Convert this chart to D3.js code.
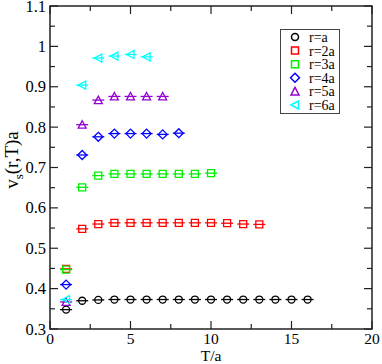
<!DOCTYPE html>
<html lang="en">
<head>
    <meta charset="UTF-8">
    <title>v_s(r,T)a vs T/a</title>
    <script src="https://d3js.org/d3.v7.min.js"></script>
    <style>
        body {
            margin: 0;
            background: #ffffff;
        }
        .frame {
            fill: none;
            stroke: #222;
            stroke-width: 1.5px;
        }
        .tick {
            stroke: #222;
            stroke-width: 1.2px;
        }
    </style>
</head>
<body>
    <div id="chart"></div>

    <script>
        // Data
        const seriesNames = ["r=a", "r=2a", "r=3a", "r=4a", "r=5a", "r=6a"];

        const tR1 = [1, 2, 3, 4, 5, 6, 7, 8, 9, 10, 11, 12, 13, 14, 15, 16];
        const vR1 = [0.348, 0.370, 0.372, 0.373, 0.373, 0.373, 0.373, 0.373, 0.373, 0.373, 0.373, 0.373, 0.373, 0.373, 0.373, 0.373];

        const tR2 = [1, 2, 3, 4, 5, 6, 7, 8, 9, 10, 11, 12, 13];
        const vR2 = [0.449, 0.548, 0.560, 0.563, 0.563, 0.563, 0.563, 0.563, 0.563, 0.563, 0.562, 0.560, 0.559];

        const tR3 = [1, 2, 3, 4, 5, 6, 7, 8, 9, 10];
        const vR3 = [0.447, 0.651, 0.680, 0.684, 0.684, 0.684, 0.684, 0.684, 0.684, 0.686];

        const tR4 = [1, 2, 3, 4, 5, 6, 7, 8];
        const vR4 = [0.410, 0.731, 0.776, 0.784, 0.784, 0.784, 0.782, 0.785];

        const tR5 = [1, 2, 3, 4, 5, 6, 7];
        const vR5 = [0.367, 0.806, 0.867, 0.876, 0.876, 0.876, 0.876];

        const tR6 = [1, 2, 3, 4, 5, 6];
        const vR6 = [0.373, 0.904, 0.971, 0.976, 0.980, 0.974];

        const xTicks = [0, 5, 10, 15, 20];
        const xTickLabels = ["0", "5", "10", "15", "20"];
        const yTicks = [0.3, 0.4, 0.5, 0.6, 0.7, 0.8, 0.9, 1.0, 1.1];
        const yTickLabels = ["0.3", "0.4", "0.5", "0.6", "0.7", "0.8", "0.9", "1", "1.1"];

        const colors = ["#000000", "#ff0000", "#00ee00", "#0000ff", "#9400d3", "#00ffff"];
        const shapes = ["circle", "square", "square", "diamond", "triUp", "triLeft"];

        const series = [
            { t: tR1, v: vR1 }, { t: tR2, v: vR2 }, { t: tR3, v: vR3 },
            { t: tR4, v: vR4 }, { t: tR5, v: vR5 }, { t: tR6, v: vR6 }
        ].map((s, i) => ({
            name: seriesNames[i],
            color: colors[i],
            shape: shapes[i],
            points: s.t.map((t, j) => ({ t: t, v: s.v[j] }))
        }));

        const width = 382;
        const height = 364;
        const plotLeft = 50, plotRight = 372, plotTop = 6, plotBottom = 329;
        const serif = "'Liberation Serif', 'Times New Roman', 'DejaVu Serif', serif";

        const svg = d3.select("#chart")
            .append("svg")
            .attr("width", width)
            .attr("height", height)
            .attr("font-family", serif)
            .style("font-family", serif);

        const x = d3.scaleLinear().domain([0, 20]).range([plotLeft, plotRight]);
        const y = d3.scaleLinear().domain([0.3, 1.1]).range([plotBottom, plotTop]);

        // marker path around (0,0)
        function markerPath(shape) {
            const r = 4;
            const p = d3.path();
            if (shape === "circle") {
                p.moveTo(r - 0.5, 0);
                p.arc(0, 0, r - 0.5, 0, 2 * Math.PI);
            } else if (shape === "square") {
                p.rect(-r + 0.5, -r + 0.5, 2 * r - 1, 2 * r - 1);
            } else if (shape === "diamond") {
                p.moveTo(0, -r - 0.5); p.lineTo(r + 0.5, 0); p.lineTo(0, r + 0.5); p.lineTo(-r - 0.5, 0); p.closePath();
            } else if (shape === "triUp") {
                p.moveTo(0, -r); p.lineTo(r, r - 0.5); p.lineTo(-r, r - 0.5); p.closePath();
            } else if (shape === "triLeft") {
                p.moveTo(-r, 0); p.lineTo(r - 0.5, -r); p.lineTo(r - 0.5, r); p.closePath();
            }
            return p.toString();
        }

        // minor / major ticks, inward on all four sides
        const xMinor = d3.range(0, 20.01, 2.5);
        const yMinor = d3.range(0.3, 1.101, 0.05);
        const tickG = svg.append("g");

        xMinor.forEach(t => {
            const len = xTicks.includes(t) ? 8 : 5;
            tickG.append("line").attr("class", "tick")
                .attr("x1", x(t)).attr("x2", x(t)).attr("y1", plotBottom).attr("y2", plotBottom - len);
            tickG.append("line").attr("class", "tick")
                .attr("x1", x(t)).attr("x2", x(t)).attr("y1", plotTop).attr("y2", plotTop + len);
        });
        yMinor.forEach(v => {
            const major = yTicks.some(m => Math.abs(m - v) < 1e-6);
            const len = major ? 8 : 5;
            tickG.append("line").attr("class", "tick")
                .attr("x1", plotLeft).attr("x2", plotLeft + len).attr("y1", y(v)).attr("y2", y(v));
            tickG.append("line").attr("class", "tick")
                .attr("x1", plotRight).attr("x2", plotRight - len).attr("y1", y(v)).attr("y2", y(v));
        });

        svg.append("rect").attr("class", "frame")
            .attr("x", plotLeft).attr("y", plotTop)
            .attr("width", plotRight - plotLeft).attr("height", plotBottom - plotTop);

        // tick labels
        svg.append("g").selectAll("text")
            .data(xTicks)
            .enter().append("text")
            .attr("x", d => x(d))
            .attr("y", plotBottom + 15)
            .attr("text-anchor", "middle")
            .attr("font-size", 15.5)
            .text((d, i) => xTickLabels[i]);

        svg.append("g").selectAll("text")
            .data(yTicks)
            .enter().append("text")
            .attr("x", plotLeft - 4)
            .attr("y", d => y(d) + 5.5)
            .attr("text-anchor", "end")
            .attr("font-size", 16.5)
            .text((d, i) => yTickLabels[i]);

        // axis titles
        svg.append("text")
            .attr("x", (plotLeft + plotRight) / 2)
            .attr("y", 360.5)
            .attr("text-anchor", "middle")
            .attr("font-size", 15.5)
            .text("T/a");

        const yTitle = svg.append("text")
            .attr("transform", "translate(18,160) rotate(-90)")
            .attr("text-anchor", "middle")
            .attr("font-size", 19);
        yTitle.append("tspan").text("v");
        yTitle.append("tspan").attr("font-size", 13).attr("dy", 5).text("s");
        yTitle.append("tspan").attr("dy", -5).text("(r,T)a");

        // data points: small error-bar caps drawn as a horizontal stroke through each marker
        const plotG = svg.append("g");
        series.forEach(s => {
            const g = plotG.append("g");
            g.selectAll("line")
                .data(s.points)
                .enter().append("line")
                .attr("x1", d => x(d.t) - 6)
                .attr("x2", d => x(d.t) + 6)
                .attr("y1", d => y(d.v))
                .attr("y2", d => y(d.v))
                .attr("stroke", s.color)
                .attr("stroke-width", 1.3);
            g.selectAll("path")
                .data(s.points)
                .enter().append("path")
                .attr("transform", d => "translate(" + x(d.t) + "," + y(d.v) + ")")
                .attr("d", markerPath(s.shape))
                .attr("fill", "none")
                .attr("stroke", s.color)
                .attr("stroke-width", 1.3);
        });

        // legend
        const lg = svg.append("g");
        lg.append("rect")
            .attr("x", 280.5).attr("y", 29.5)
            .attr("width", 59).attr("height", 84)
            .attr("fill", "#fff")
            .attr("stroke", "#444")
            .attr("stroke-width", 1);
        series.forEach((s, i) => {
            const ly = 37 + i * 13.6;
            lg.append("path")
                .attr("transform", "translate(295," + ly + ")")
                .attr("d", markerPath(s.shape))
                .attr("fill", "none")
                .attr("stroke", s.color)
                .attr("stroke-width", 1.5);
            lg.append("text")
                .attr("x", 309)
                .attr("y", ly + 5)
                .attr("font-size", 14)
                .text(s.name);
        });
    </script>
</body>
</html>
